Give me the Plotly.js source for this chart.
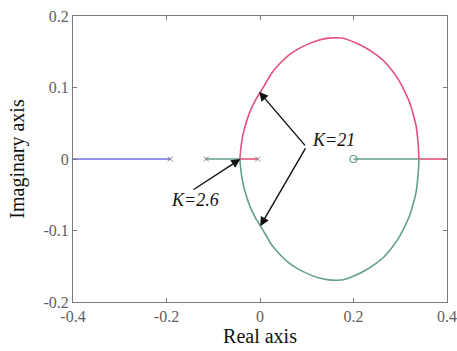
<!DOCTYPE html>
<html>
<head>
<meta charset="utf-8">
<script src="https://cdn.plot.ly/plotly-3.0.1.min.js"></script>
<style>html,body{margin:0;padding:0;background:#fff;}#chart{width:457px;height:351px;}</style>
</head>
<body>
<div id="chart"></div>
<script>
// Real-axis branches
var blueX = [-0.4, -0.192];
var blueY = [0, 0];
var greenLeftX = [-0.115, -0.043];
var greenLeftY = [0, 0];
var redLeftX = [-0.043, -0.005];
var redLeftY = [0, 0];
var greenRightX = [0.2, 0.34];
var greenRightY = [0, 0];
var redRightX = [0.34, 0.4];
var redRightY = [0, 0];

// Complex branches (upper arc red, lower arc green)
var upperArcX = [-0.043, -0.041, -0.037, -0.030, -0.021, -0.010, 0.005, 0.026, 0.043, 0.061, 0.082, 0.104, 0.125, 0.147, 0.162, 0.178, 0.203, 0.225, 0.246, 0.265, 0.282, 0.297, 0.310, 0.320, 0.328, 0.334, 0.337, 0.339, 0.340];
var upperArcY = [0, 0.015, 0.032, 0.050, 0.067, 0.082, 0.098, 0.121, 0.134, 0.145, 0.154, 0.161, 0.166, 0.169, 0.1695, 0.169, 0.163, 0.156, 0.147, 0.137, 0.124, 0.110, 0.094, 0.079, 0.062, 0.046, 0.030, 0.015, 0];
var lowerArcX = [-0.043, -0.041, -0.037, -0.030, -0.021, -0.010, 0.005, 0.026, 0.043, 0.061, 0.082, 0.104, 0.125, 0.147, 0.162, 0.178, 0.203, 0.225, 0.246, 0.265, 0.282, 0.297, 0.310, 0.320, 0.328, 0.334, 0.337, 0.339, 0.340];
var lowerArcY = [0, -0.015, -0.032, -0.050, -0.067, -0.082, -0.098, -0.121, -0.134, -0.145, -0.154, -0.161, -0.166, -0.169, -0.1695, -0.169, -0.163, -0.156, -0.147, -0.137, -0.124, -0.110, -0.094, -0.079, -0.062, -0.046, -0.030, -0.015, 0];

// Poles and zero
var polesX = [-0.192, -0.115, -0.005];
var polesY = [0, 0, 0];
var zerosX = [0.2];
var zerosY = [0];

// Tick labels
var xTicks = [-0.4, -0.2, 0, 0.2, 0.4];
var xTickText = ['-0.4', '-0.2', '0', '0.2', '0.4'];
var yTicks = [-0.2, -0.1, 0, 0.1, 0.2];
var yTickText = ['-0.2', '-0.1', '0', '0.1', '0.2'];

// Annotation labels
var k21Label = 'K=21';
var k26Label = 'K=2.6';
var k21Pos = [0.157, 0.026];
var k21Vertex = [0.099, 0.017];
var k21Tips = [[-0.002, 0.094], [0.0005, -0.094]];
var k26Pos = [-0.138, -0.058];
var k26Tail = [-0.145, -0.044];
var k26Tip = [-0.042, 0];

var RED = '#e6507a';
var GREEN = '#63a088';
var BLUE = '#6f6fdf';
var FONT = 'Times New Roman, Liberation Serif, Times, serif';

function seg(x, y, c, shape) {
  return {x: x, y: y, mode: 'lines', type: 'scatter', hoverinfo: 'skip',
    line: {color: c, width: 1.6, shape: shape || 'linear', smoothing: 0.8}};
}

var data = [
  seg(blueX, blueY, BLUE),
  seg(greenLeftX, greenLeftY, GREEN),
  seg(redLeftX, redLeftY, RED),
  seg(greenRightX, greenRightY, GREEN),
  seg(redRightX, redRightY, RED),
  seg(upperArcX, upperArcY, RED, 'spline'),
  seg(lowerArcX, lowerArcY, GREEN, 'spline'),
  {x: polesX, y: polesY, mode: 'markers', type: 'scatter', hoverinfo: 'skip',
    marker: {symbol: 'x-thin-open', size: 5, line: {color: '#aaaaaa', width: 1}}},
  {x: zerosX, y: zerosY, mode: 'markers', type: 'scatter', hoverinfo: 'skip',
    marker: {symbol: 'circle-open', size: 7, color: GREEN, line: {color: GREEN, width: 1.2}}}
];

var annotations = [
  {x: k21Pos[0], y: k21Pos[1], xref: 'x', yref: 'y', text: '<i>' + k21Label + '</i>', showarrow: false,
    font: {family: FONT, size: 18, color: '#111'}},
  {x: k26Pos[0], y: k26Pos[1], xref: 'x', yref: 'y', text: '<i>' + k26Label + '</i>', showarrow: false,
    font: {family: FONT, size: 18, color: '#111'}}
];
k21Tips.forEach(function (t) {
  annotations.push({x: t[0], y: t[1], ax: k21Vertex[0], ay: k21Vertex[1], xref: 'x', yref: 'y',
    axref: 'x', ayref: 'y', text: '', showarrow: true, arrowhead: 2, arrowsize: 1.3, arrowwidth: 1.4,
    arrowcolor: '#111', standoff: 0, startstandoff: 0});
});
annotations.push({x: k26Tip[0], y: k26Tip[1], ax: k26Tail[0], ay: k26Tail[1], xref: 'x', yref: 'y',
  axref: 'x', ayref: 'y', text: '', showarrow: true, arrowhead: 2, arrowsize: 1.3, arrowwidth: 1.4,
  arrowcolor: '#111', standoff: 0, startstandoff: 0});

var axisCommon = {
  showgrid: false, zeroline: false, showline: true, mirror: 'ticks',
  linecolor: '#7a7a7a', linewidth: 1, ticks: 'inside', ticklen: 4, tickcolor: '#7a7a7a',
  tickfont: {family: FONT, size: 16, color: '#606060'}
};

var layout = {
  width: 457, height: 351,
  margin: {l: 73, r: 10, t: 16, b: 49, pad: 0},
  paper_bgcolor: '#ffffff', plot_bgcolor: '#ffffff',
  showlegend: false,
  font: {family: FONT},
  xaxis: Object.assign({}, axisCommon, {
    range: [-0.4, 0.4], tickvals: xTicks, ticktext: xTickText,
    title: {text: 'Real axis', font: {family: FONT, size: 20, color: '#111'}, standoff: 1}
  }),
  yaxis: Object.assign({}, axisCommon, {
    range: [-0.2, 0.2], tickvals: yTicks, ticktext: yTickText,
    title: {text: 'Imaginary axis', font: {family: FONT, size: 20, color: '#111'}, standoff: 13}
  }),
  annotations: annotations
};

Plotly.newPlot('chart', data, layout, {staticPlot: true, displayModeBar: false});
</script>
</body>
</html>
